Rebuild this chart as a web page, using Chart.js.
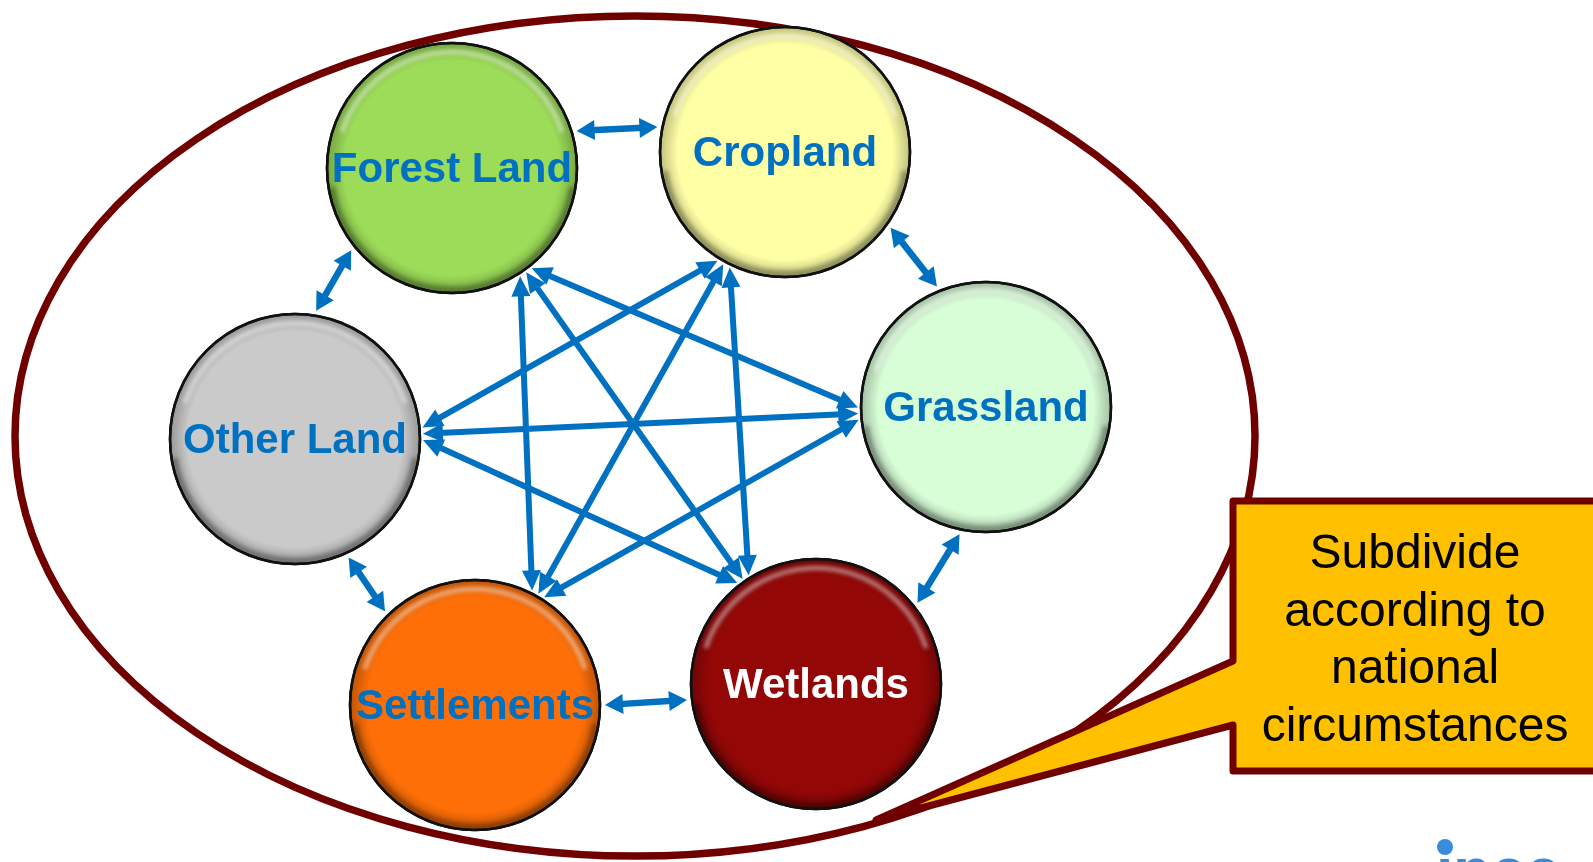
<!DOCTYPE html>
<html>
<head>
<meta charset="utf-8">
<title>Land-use categories</title>
<script src="https://cdn.jsdelivr.net/npm/chart.js@4.4.1/dist/chart.umd.min.js"></script>
<style>
  html, body { margin: 0; padding: 0; background: #fff; overflow: hidden; }
  canvas { display: block; }
</style>
</head>
<body>
<canvas id="landChart" width="1593" height="862"></canvas>
<script>
// Land-use categories and their place on the diagram
const categories = ['Forest Land', 'Cropland', 'Grassland', 'Wetlands', 'Settlements', 'Other Land'];
const nodeX = [452, 785, 986, 816, 475, 295];
const nodeY = [168, 152, 407, 684, 705, 439];

// conversions between neighbouring categories (short arrows round the ring)
const ringLinks = [
    ['Forest Land', 'Cropland'],
    ['Cropland', 'Grassland'],
    ['Grassland', 'Wetlands'],
    ['Wetlands', 'Settlements'],
    ['Settlements', 'Other Land'],
    ['Other Land', 'Forest Land']
];
// conversions across the ring (the star in the middle)
const crossLinks = [
    ['Forest Land', 'Grassland'],
    ['Forest Land', 'Wetlands'],
    ['Forest Land', 'Settlements'],
    ['Cropland', 'Wetlands'],
    ['Cropland', 'Settlements'],
    ['Cropland', 'Other Land'],
    ['Grassland', 'Settlements'],
    ['Grassland', 'Other Land'],
    ['Wetlands', 'Other Land']
];
const calloutLines = ['Subdivide', 'according to', 'national', 'circumstances'];

// styles
const fillColors = ['#9CDC58', '#FFFFA6', '#D8FED8', '#930707', '#FF6F08', '#CACACA'];
const labelColors = ['#0070C0', '#0070C0', '#0070C0', '#FFFFFF', '#0070C0', '#0070C0'];
const ringShift = [31, 36, 44, 8, 22, 46];   // how far each ring arrow sits outside the centre line
const ARROW = '#0070C0';
const FRAME = '#700000';
const FONT = '"Liberation Sans", Arial, sans-serif';

function drawArrow(ctx, x1, y1, x2, y2, w, head, hw) {
    const len = Math.hypot(x2 - x1, y2 - y1);
    const ux = (x2 - x1) / len, uy = (y2 - y1) / len;
    ctx.lineWidth = w;
    ctx.beginPath();
    ctx.moveTo(x1 + ux * head * 0.8, y1 + uy * head * 0.8);
    ctx.lineTo(x2 - ux * head * 0.8, y2 - uy * head * 0.8);
    ctx.stroke();
    [[x1, y1, -1], [x2, y2, 1]].forEach(([px, py, s]) => {
        const bx = px - s * ux * head, by = py - s * uy * head;
        ctx.beginPath();
        ctx.moveTo(px, py);
        ctx.lineTo(bx - uy * hw, by + ux * hw);
        ctx.lineTo(bx + uy * hw, by - ux * hw);
        ctx.closePath();
        ctx.fill();
    });
}

const diagramPlugin = {
    id: 'diagram',
    beforeDatasetsDraw(chart) {
        const { ctx, scales: { x, y } } = chart;
        const pts = chart.getDatasetMeta(0).data;
        const r = pts[0].options.radius;
        const idx = name => categories.indexOf(name);
        const hubX = x.getPixelForValue(635), hubY = y.getPixelForValue(425);

        ctx.save();
        // outer frame
        ctx.beginPath();
        ctx.ellipse(x.getPixelForValue(635), y.getPixelForValue(436),
            Math.abs(x.getPixelForValue(620) - x.getPixelForValue(0)),
            Math.abs(y.getPixelForValue(420) - y.getPixelForValue(0)), 0, 0, Math.PI * 2);
        ctx.lineWidth = 7.5;
        ctx.strokeStyle = FRAME;
        ctx.stroke();

        ctx.strokeStyle = ARROW;
        ctx.fillStyle = ARROW;
        ctx.lineCap = 'butt';

        // ring arrows, shifted outward from the centre line
        ringLinks.forEach(([a, b], k) => {
            const A = pts[idx(a)], B = pts[idx(b)];
            const len = Math.hypot(B.x - A.x, B.y - A.y);
            const ux = (B.x - A.x) / len, uy = (B.y - A.y) / len;
            let nx = -uy, ny = ux;
            const mx = (A.x + B.x) / 2 - hubX, my = (A.y + B.y) / 2 - hubY;
            if (nx * mx + ny * my < 0) { nx = -nx; ny = -ny; }
            const d = ringShift[k], rr = r + 5;
            const along = Math.sqrt(rr * rr - d * d);
            drawArrow(ctx,
                A.x + ux * along + nx * d, A.y + uy * along + ny * d,
                B.x - ux * along + nx * d, B.y - uy * along + ny * d,
                6.5, 18, 10);
        });

        // star arrows, all leaving each circle near its side facing the hub
        const anchor = (P, T) => {
            const a0 = Math.atan2(hubY - P.y, hubX - P.x);
            let da = Math.atan2(T.y - P.y, T.x - P.x) - a0;
            while (da > Math.PI) da -= 2 * Math.PI;
            while (da < -Math.PI) da += 2 * Math.PI;
            const a = a0 + da * 0.1;
            return [P.x + Math.cos(a) * (r + 3), P.y + Math.sin(a) * (r + 3)];
        };
        crossLinks.forEach(([a, b]) => {
            const A = pts[idx(a)], B = pts[idx(b)];
            const [x1, y1] = anchor(A, B);
            const [x2, y2] = anchor(B, A);
            drawArrow(ctx, x1, y1, x2, y2, 6, 20, 9.5);
        });
        ctx.restore();
    },
    afterDatasetsDraw(chart) {
        const { ctx } = chart;
        const pts = chart.getDatasetMeta(0).data;
        ctx.save();
        pts.forEach((p, i) => {
            const r = p.options.radius;
            // bevel: darker rim, light top edge, shadowed bottom edge
            const g = ctx.createRadialGradient(p.x, p.y, r * 0.86, p.x, p.y, r);
            g.addColorStop(0, 'rgba(0,0,0,0)');
            g.addColorStop(1, 'rgba(0,0,0,0.25)');
            ctx.fillStyle = g;
            ctx.beginPath();
            ctx.arc(p.x, p.y, r, 0, Math.PI * 2);
            ctx.fill();

            ctx.save();
            ctx.beginPath();
            ctx.arc(p.x, p.y, r, 0, Math.PI * 2);
            ctx.clip();
            ctx.filter = 'blur(2px)';
            ctx.lineWidth = 4;
            ctx.strokeStyle = 'rgba(255,255,255,0.55)';
            ctx.beginPath();
            ctx.arc(p.x, p.y, r - 9, Math.PI * 1.1, Math.PI * 1.9);
            ctx.stroke();
            ctx.lineWidth = 7;
            ctx.strokeStyle = 'rgba(0,0,0,0.3)';
            ctx.beginPath();
            ctx.arc(p.x, p.y, r - 3, Math.PI * 0.05, Math.PI * 0.95);
            ctx.stroke();
            ctx.restore();

            ctx.lineWidth = 2.5;
            ctx.strokeStyle = '#111';
            ctx.beginPath();
            ctx.arc(p.x, p.y, r, 0, Math.PI * 2);
            ctx.stroke();

            ctx.fillStyle = labelColors[i];
            ctx.font = 'bold 42px ' + FONT;
            ctx.textAlign = 'center';
            ctx.textBaseline = 'middle';
            ctx.fillText(categories[i], p.x, p.y + 2);
        });

        // callout box with pointer
        ctx.beginPath();
        ctx.moveTo(1233, 501);
        ctx.lineTo(1610, 501);
        ctx.lineTo(1610, 771);
        ctx.lineTo(1233, 771);
        ctx.lineTo(1233, 725);
        ctx.lineTo(876, 820);
        ctx.lineTo(1233, 661);
        ctx.closePath();
        ctx.fillStyle = '#FFC000';
        ctx.fill();
        ctx.lineJoin = 'round';
        ctx.lineWidth = 7;
        ctx.strokeStyle = FRAME;
        ctx.stroke();

        ctx.fillStyle = '#000';
        ctx.font = '48px ' + FONT;
        ctx.textAlign = 'center';
        ctx.textBaseline = 'alphabetic';
        calloutLines.forEach((t, k) => ctx.fillText(t, 1415, 568 + k * 57.5));

        // corner of the logo peeking in at the bottom
        ctx.fillStyle = '#3A8BDB';
        ctx.beginPath();
        ctx.arc(1445, 847, 8, 0, Math.PI * 2);
        ctx.fill();
        ctx.font = 'bold 62px ' + FONT;
        ctx.textAlign = 'left';
        ctx.fillText('\u0131pcc', 1436, 891);
        ctx.restore();
    }
};

new Chart(document.getElementById('landChart'), {
    type: 'scatter',
    data: {
        datasets: [{
            data: categories.map((c, i) => ({ x: nodeX[i], y: nodeY[i] })),
            backgroundColor: fillColors,
            borderColor: '#111',
            borderWidth: 2.5,
            pointRadius: 125,
            pointHoverRadius: 125,
            clip: false
        }]
    },
    options: {
        responsive: false,
        animation: false,
        devicePixelRatio: 1,
        events: [],
        layout: { autoPadding: false, padding: 0 },
        plugins: { legend: { display: false }, tooltip: { enabled: false } },
        scales: {
            x: { type: 'linear', min: 0, max: 1593, display: false },
            y: { type: 'linear', min: 0, max: 862, reverse: true, display: false }
        }
    },
    plugins: [diagramPlugin]
});
</script>
</body>
</html>
